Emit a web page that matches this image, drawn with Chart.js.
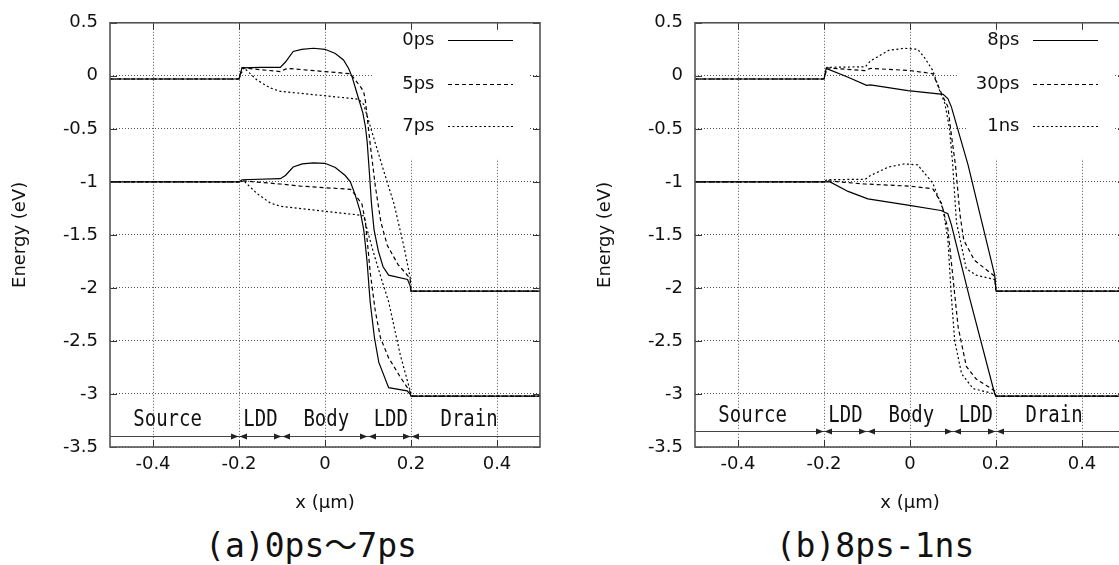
<!DOCTYPE html>
<html><head><meta charset="utf-8">
<script src="https://cdn.jsdelivr.net/npm/chart.js@4/dist/chart.umd.min.js"></script>
<style>
html,body{margin:0;padding:0;background:#fff;overflow:hidden;width:1119px;height:565px;position:relative;}
canvas{position:absolute;top:0;}
#c1{left:0px}
#c2{left:585px}
.cap{position:absolute;top:529px;width:400px;text-align:center;font-family:"DejaVu Sans Mono","Noto Sans CJK JP",monospace;font-size:33px;line-height:33px;color:#111;white-space:nowrap;}
</style></head>
<body>
<canvas id="c1" width="545" height="520"></canvas>
<canvas id="c2" width="545" height="520"></canvas>
<div class="cap" style="left:111px">(a)0ps～7ps</div>
<div class="cap" style="left:675px">(b)8ps-1ns</div>
<script>
// ---------- axis ticks / annotations ----------
const xTicks = [-0.4, -0.2, 0, 0.2, 0.4];
const yTicks = [0.5, 0, -0.5, -1, -1.5, -2, -2.5, -3, -3.5];
const regionBounds = [-0.5, -0.2, -0.1, 0.1, 0.2, 0.5];
const regionNames = ["Source", "LDD", "Body", "LDD", "Drain"];
const regionLabelX = [-0.366, -0.15, 0.003, 0.153, 0.335];
const legendA = ["0ps", "5ps", "7ps"];
const legendB = ["8ps", "30ps", "1ns"];

// ---------- (a) 0ps ----------
const a_ec0_x = [-0.5,-0.2,-0.193,-0.15,-0.104,-0.092,-0.074,-0.054,-0.027,0,0.024,0.043,0.055,0.063,0.074,0.088,0.094,0.098,0.103,0.108,0.114,0.124,0.135,0.148,0.192,0.198,0.2,0.5];
const a_ec0_y = [-0.03,-0.03,0.075,0.08,0.08,0.13,0.23,0.25,0.26,0.25,0.21,0.15,0.07,-0.01,-0.16,-0.35,-0.48,-0.62,-0.9,-1.2,-1.45,-1.65,-1.8,-1.88,-1.92,-1.98,-2.03,-2.03];
const a_ev0_x = [-0.5,-0.2,-0.193,-0.104,-0.092,-0.074,-0.053,-0.027,0,0.024,0.047,0.059,0.07,0.082,0.09,0.094,0.098,0.105,0.115,0.125,0.148,0.191,0.198,0.2,0.5];
const a_ev0_y = [-1.0,-1.0,-0.98,-0.97,-0.94,-0.86,-0.83,-0.82,-0.825,-0.865,-0.94,-1.0,-1.12,-1.28,-1.45,-1.6,-1.76,-2.13,-2.47,-2.7,-2.94,-2.97,-3.0,-3.02,-3.02];
// ---------- (a) 5ps ----------
const a_ec5_x = [-0.5,-0.2,-0.193,-0.104,-0.088,0.059,0.082,0.09,0.094,0.105,0.117,0.13,0.145,0.17,0.198,0.2,0.5];
const a_ec5_y = [-0.03,-0.03,0.075,0.04,0.07,0.02,-0.1,-0.15,-0.24,-0.64,-1.04,-1.38,-1.6,-1.78,-1.91,-2.03,-2.03];
const a_ev5_x = [-0.5,-0.2,-0.193,-0.104,-0.057,0.059,0.07,0.086,0.094,0.101,0.105,0.117,0.129,0.148,0.175,0.198,0.2,0.5];
const a_ev5_y = [-1.0,-1.0,-0.99,-1.02,-1.04,-1.07,-1.12,-1.21,-1.38,-1.67,-1.85,-2.22,-2.47,-2.66,-2.84,-2.98,-3.02,-3.02];
// ---------- (a) 7ps ----------
const a_ec7_x = [-0.5,-0.2,-0.189,-0.158,-0.127,-0.104,0.078,0.09,0.113,0.136,0.16,0.183,0.198,0.2,0.5];
const a_ec7_y = [-0.03,-0.03,0.077,-0.04,-0.115,-0.146,-0.22,-0.27,-0.58,-0.89,-1.2,-1.6,-1.9,-2.03,-2.03];
const a_ev7_x = [-0.5,-0.2,-0.189,-0.158,-0.127,-0.104,0.074,0.09,0.098,0.113,0.13,0.148,0.175,0.198,0.2,0.5];
const a_ev7_y = [-1.0,-1.0,-0.99,-1.11,-1.2,-1.23,-1.31,-1.32,-1.45,-1.67,-1.9,-2.13,-2.63,-2.97,-3.02,-3.02];

// ---------- (b) 8ps ----------
const b_ec8_x = [-0.5,-0.2,-0.195,-0.144,-0.101,-0.092,-0.005,0.077,0.088,0.096,0.135,0.166,0.197,0.2,0.5];
const b_ec8_y = [-0.03,-0.03,0.07,-0.013,-0.09,-0.085,-0.14,-0.175,-0.215,-0.29,-0.84,-1.36,-1.88,-2.03,-2.03];
const b_ev8_x = [-0.5,-0.2,-0.186,-0.144,-0.098,-0.005,0.072,0.088,0.096,0.139,0.197,0.2,0.5];
const b_ev8_y = [-1.0,-1.0,-1.0,-1.09,-1.16,-1.22,-1.27,-1.3,-1.4,-2.1,-3.0,-3.02,-3.02];
// ---------- (b) 30ps ----------
const b_ec30_x = [-0.5,-0.2,-0.193,-0.105,-0.092,0.0,0.053,0.077,0.088,0.096,0.106,0.116,0.125,0.15,0.197,0.2,0.5];
const b_ec30_y = [-0.03,-0.03,0.075,0.05,0.07,0.05,0.02,-0.2,-0.29,-0.55,-0.85,-1.3,-1.55,-1.74,-1.89,-2.03,-2.03];
const b_ev30_x = [-0.5,-0.2,-0.193,-0.105,0.0,0.053,0.073,0.088,0.096,0.112,0.131,0.154,0.197,0.2,0.5];
const b_ev30_y = [-1.0,-1.0,-0.99,-1.02,-1.04,-1.065,-1.2,-1.44,-1.75,-2.37,-2.74,-2.86,-2.97,-3.02,-3.02];
// ---------- (b) 1ns ----------
const b_ec1_x = [-0.5,-0.2,-0.193,-0.104,-0.092,-0.05,-0.013,0.018,0.034,0.053,0.069,0.081,0.092,0.099,0.108,0.131,0.154,0.197,0.2,0.5];
const b_ec1_y = [-0.03,-0.03,0.08,0.085,0.14,0.24,0.26,0.25,0.17,0.05,-0.14,-0.26,-0.5,-0.82,-1.38,-1.82,-1.88,-1.92,-2.03,-2.03];
const b_ev1_x = [-0.5,-0.2,-0.193,-0.104,-0.092,-0.05,-0.013,0.018,0.034,0.053,0.077,0.088,0.096,0.104,0.12,0.147,0.197,0.2,0.5];
const b_ev1_y = [-1.0,-1.0,-0.98,-0.975,-0.94,-0.86,-0.83,-0.84,-0.92,-1.01,-1.26,-1.54,-2.07,-2.5,-2.81,-2.95,-3.0,-3.02,-3.02];

// ---------- styles ----------
const DASHES = [[], [4, 3], [2, 2.5]];
const FONT = "'DejaVu Sans', 'Liberation Sans', sans-serif";

function pts(xs, ys) { return xs.map((x, i) => ({ x: x, y: ys[i] })); }

function ds(label, xs, ys, style) {
  return {
    label: label, data: pts(xs, ys), showLine: true, fill: false, tension: 0,
    borderColor: '#000', borderWidth: 1.2, borderDash: DASHES[style],
    pointRadius: 0, pointHoverRadius: 0
  };
}

const annotPlugin = {
  id: 'annot',
  beforeDatasetsDraw(chart) {
    // opaque key box (hides grid lines)
    const ca = chart.chartArea, ctx = chart.ctx;
    ctx.save();
    ctx.fillStyle = '#fff';
    ctx.fillRect(ca.right - 166, ca.top + 1, 154, 82);
    ctx.fillRect(ca.right - 157, ca.top + 82, 145, 54);
    ctx.restore();
  },
  afterDatasetsDraw(chart, args, opts) {
    const ctx = chart.ctx, ca = chart.chartArea;
    const xs = chart.scales.x, ys = chart.scales.y;
    ctx.save();
    // region arrows
    const ay = Math.round(ys.getPixelForValue(opts.arrowY)) + 0.5;
    ctx.strokeStyle = '#444'; ctx.fillStyle = '#222'; ctx.lineWidth = 1;
    ctx.beginPath(); ctx.moveTo(ca.left, ay); ctx.lineTo(ca.right, ay); ctx.stroke();
    for (let i = 1; i < regionBounds.length - 1; i++) {
      const bx = xs.getPixelForValue(regionBounds[i]);
      ctx.beginPath(); ctx.moveTo(bx - 0.5, ay); ctx.lineTo(bx - 8, ay - 3); ctx.lineTo(bx - 8, ay + 3); ctx.closePath(); ctx.fill();
      ctx.beginPath(); ctx.moveTo(bx + 0.5, ay); ctx.lineTo(bx + 8, ay - 3); ctx.lineTo(bx + 8, ay + 3); ctx.closePath(); ctx.fill();
    }
    // region labels
    ctx.fillStyle = '#111';
    ctx.font = "19px 'DejaVu Sans Mono', monospace";
    ctx.textAlign = 'center'; ctx.textBaseline = 'alphabetic';
    const ly = ys.getPixelForValue(opts.labelY);
    regionNames.forEach((n, i) => {
      ctx.save();
      ctx.translate(xs.getPixelForValue(regionLabelX[i]), ly);
      ctx.scale(1, 1.2);
      ctx.fillText(n, 0, 0);
      ctx.restore();
    });
    // key
    const rows = [17.5, 61.5, 103.5];
    ctx.font = "18px " + FONT;
    ctx.textAlign = 'right'; ctx.textBaseline = 'middle';
    opts.keys.forEach((k, i) => {
      const y = ca.top + rows[i];
      ctx.fillStyle = '#111';
      ctx.fillText(k, ca.right - 105.5, y + 0.5);
      ctx.strokeStyle = '#000'; ctx.lineWidth = 1.2;
      ctx.setLineDash(DASHES[i]);
      ctx.beginPath(); ctx.moveTo(ca.right - 92, Math.round(y) + 0.5); ctx.lineTo(ca.right - 27, Math.round(y) + 0.5); ctx.stroke();
      ctx.setLineDash([]);
    });
    ctx.restore();
  },
  afterDraw(chart) {
    const ctx = chart.ctx, ca = chart.chartArea;
    const xs = chart.scales.x, ys = chart.scales.y;
    ctx.save();
    ctx.strokeStyle = '#333'; ctx.lineWidth = 1;
    ctx.beginPath();
    xTicks.forEach(v => {
      const px = Math.round(xs.getPixelForValue(v)) + 0.5;
      ctx.moveTo(px, ca.top); ctx.lineTo(px, ca.top + 7);
      ctx.moveTo(px, ca.bottom); ctx.lineTo(px, ca.bottom - 7);
    });
    yTicks.forEach(v => {
      const py = Math.round(ys.getPixelForValue(v)) + 0.5;
      ctx.moveTo(ca.left, py); ctx.lineTo(ca.left + 7, py);
      ctx.moveTo(ca.right, py); ctx.lineTo(ca.right - 7, py);
    });
    ctx.stroke();
    ctx.strokeStyle = '#555'; ctx.lineWidth = 1.6;
    ctx.strokeRect(ca.left, ca.top, ca.right - ca.left, ca.bottom - ca.top);
    ctx.restore();
  }
};

function makeChart(id, datasets, keys, arrowY, labelY) {
  return new Chart(document.getElementById(id), {
    type: 'scatter',
    data: { datasets: datasets },
    plugins: [annotPlugin],
    options: {
      responsive: false, animation: false, devicePixelRatio: 1,
      layout: { padding: { top: 17, right: 5, left: 0, bottom: 0 } },
      plugins: {
        legend: { display: false }, tooltip: { enabled: false },
        annot: { keys: keys, arrowY: arrowY, labelY: labelY }
      },
      scales: {
        x: {
          type: 'linear', min: -0.5, max: 0.5,
          afterBuildTicks: (ax) => { ax.ticks = xTicks.map(v => ({ value: v })); },
          afterFit: (ax) => { ax.height = 73; },
          ticks: { padding: 7, color: '#111', font: { family: FONT, size: 18 }, callback: (v) => String(v) },
          grid: { color: '#555', lineWidth: 1, drawTicks: false },
          border: { display: false, dash: [1, 2] },
          title: { display: true, text: 'x (\u03bcm)', color: '#111', font: { family: FONT, size: 18 }, padding: { top: 0, bottom: 6 } }
        },
        y: {
          type: 'linear', min: -3.5, max: 0.5,
          afterBuildTicks: (ax) => { ax.ticks = yTicks.map(v => ({ value: v })); },
          afterFit: (ax) => { ax.width = 110; },
          ticks: { padding: 12, color: '#111', font: { family: FONT, size: 18 }, callback: (v) => String(v) },
          grid: { color: '#555', lineWidth: 1, drawTicks: false },
          border: { display: false, dash: [1, 2] },
          title: { display: true, text: 'Energy (eV)', color: '#111', font: { family: FONT, size: 18 }, padding: { top: 10, bottom: 0 } }
        }
      }
    }
  });
}

makeChart('c1', [
  ds(legendA[0], a_ec0_x, a_ec0_y, 0), ds(legendA[0], a_ev0_x, a_ev0_y, 0),
  ds(legendA[1], a_ec5_x, a_ec5_y, 1), ds(legendA[1], a_ev5_x, a_ev5_y, 1),
  ds(legendA[2], a_ec7_x, a_ec7_y, 2), ds(legendA[2], a_ev7_x, a_ev7_y, 2)
], legendA, -3.4, -3.30);

makeChart('c2', [
  ds(legendB[0], b_ec8_x, b_ec8_y, 0), ds(legendB[0], b_ev8_x, b_ev8_y, 0),
  ds(legendB[1], b_ec30_x, b_ec30_y, 1), ds(legendB[1], b_ev30_x, b_ev30_y, 1),
  ds(legendB[2], b_ec1_x, b_ec1_y, 2), ds(legendB[2], b_ev1_x, b_ev1_y, 2)
], legendB, -3.35, -3.26);
</script>
</body></html>
